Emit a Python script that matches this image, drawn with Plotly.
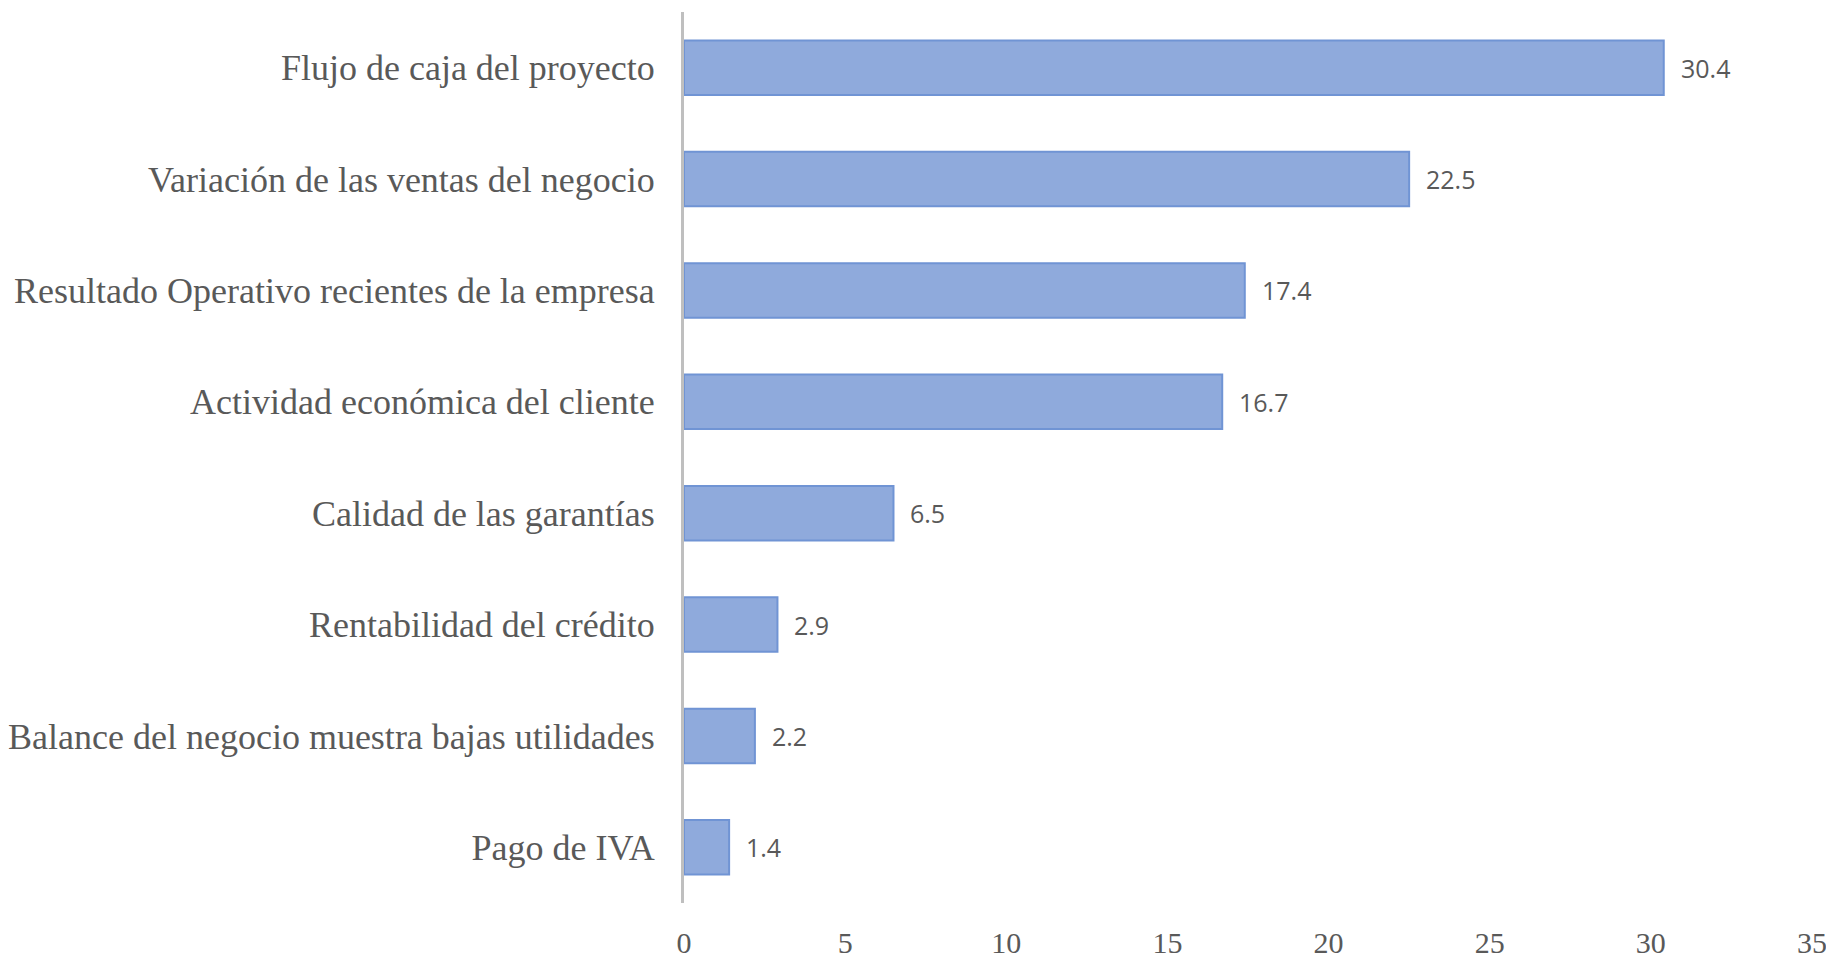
import plotly.graph_objects as go

categories = [
    "Flujo de caja del proyecto",
    "Variación de las ventas del negocio",
    "Resultado Operativo recientes de la empresa",
    "Actividad económica del cliente",
    "Calidad de las garantías",
    "Rentabilidad del crédito",
    "Balance del negocio muestra bajas utilidades",
    "Pago de IVA",
]
values = [30.4, 22.5, 17.4, 16.7, 6.5, 2.9, 2.2, 1.4]
value_labels = ["30.4", "22.5", "17.4", "16.7", "6.5", "2.9", "2.2", "1.4"]
x_ticks = [0, 5, 10, 15, 20, 25, 30, 35]

GRAY = "#595959"

fig = go.Figure()
fig.add_trace(go.Bar(
    x=values,
    y=categories,
    orientation="h",
    width=0.49,
    marker=dict(color="#8FAADC", line=dict(color="#7094D4", width=2)),
    hoverinfo="x+y",
))

for c, v, t in zip(categories, values, value_labels):
    fig.add_annotation(
        x=v, y=c, text=t, xanchor="left", yanchor="middle",
        xshift=15, showarrow=False,
        font=dict(family="Open Sans", size=25, color=GRAY),
    )

# page body has an 8px margin: size the figure so the plot area lands where the reference has it
fig.update_layout(
    width=1826, height=952,
    margin=dict(l=676, r=22, t=4, b=57),
    paper_bgcolor="white", plot_bgcolor="white",
    showlegend=False,
    bargap=0.51,
)
fig.update_xaxes(
    range=[0, 35], tickvals=x_ticks, ticktext=[str(t) for t in x_ticks],
    showgrid=False, zeroline=False, showline=False, automargin=False,
    tickfont=dict(family="Liberation Serif", size=30, color=GRAY),
    ticks="", ticklabelstandoff=19,
)
fig.update_yaxes(
    autorange="reversed", showgrid=False, zeroline=False, automargin=False,
    showline=True, linecolor="#BFBFBF", linewidth=3,
    tickfont=dict(family="Liberation Serif", size=36, color=GRAY),
    ticks="", ticklabelstandoff=19,
)

fig.write_html("out.html")
